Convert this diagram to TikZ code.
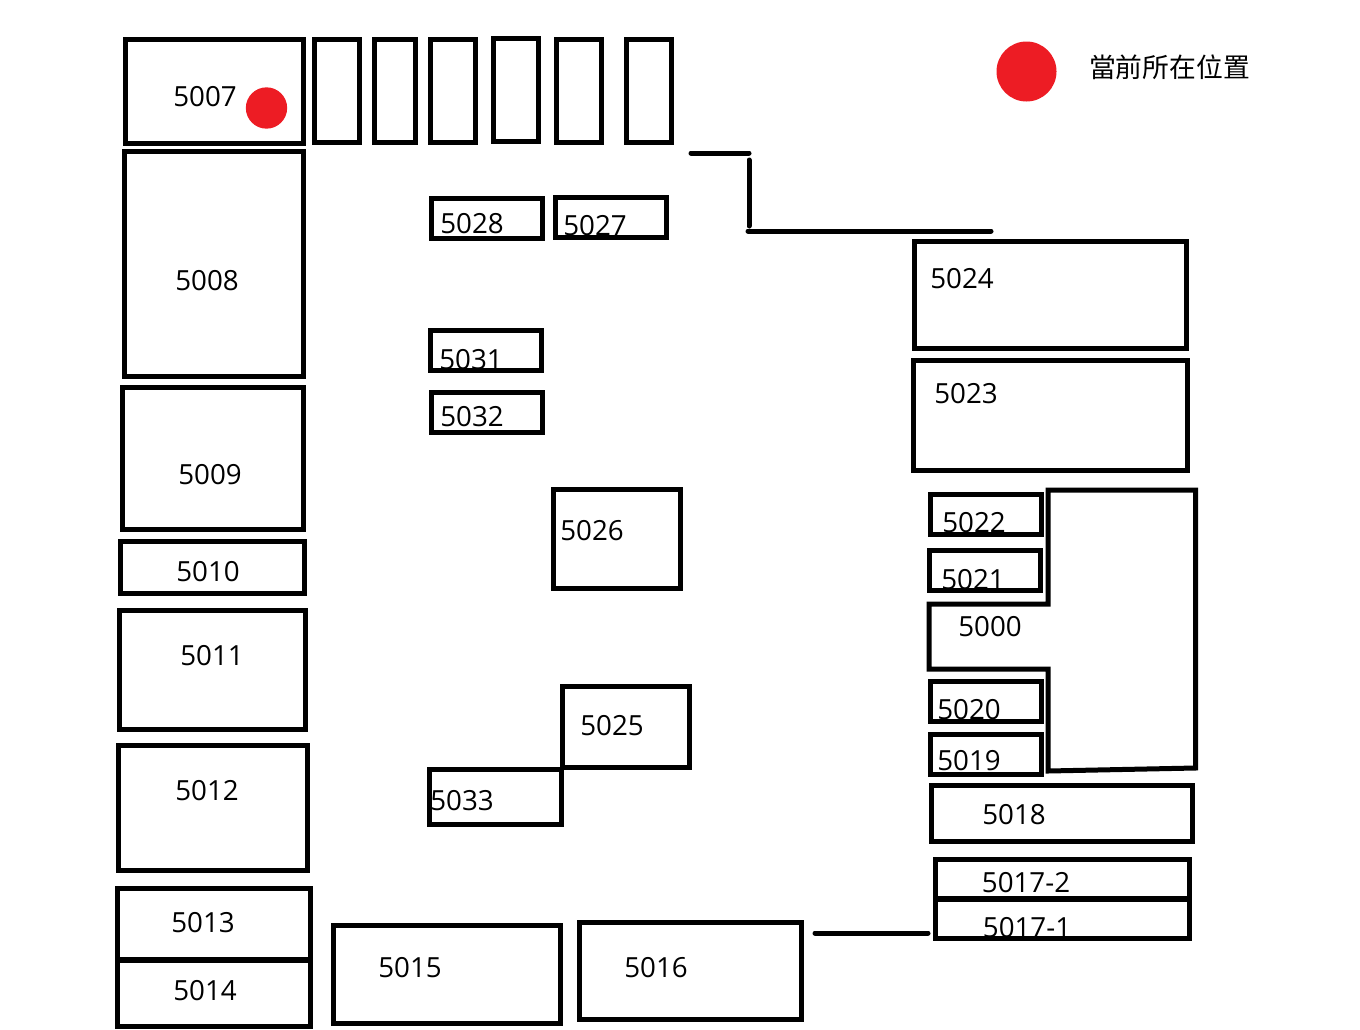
\documentclass[tikz,border=0pt]{standalone}
\usepackage{fontspec}
\setmainfont{Open Sans}
\newfontfamily\cjkfont{Noto Sans CJK TC}
\definecolor{herered}{HTML}{ED1C24}
\tikzset{
  room/.style 2 args={draw,line width=3.75pt,rectangle,inner sep=0pt,outer sep=0pt,anchor=north west,
    minimum width=#1*0.75pt-0.75pt,minimum height=#2*0.75pt-0.75pt},
  num/.style={font=\fontsize{20.8}{24}\selectfont,inner sep=0pt,yshift=-0.75pt},
  wall/.style={line width=3.75pt,line cap=round}
}
\begin{document}
\begin{tikzpicture}[x=0.75pt,y=-0.75pt]
\useasboundingbox (0,0) rectangle (1360,1029);
% top row
\node [room={179}{105}] (r5007) at (125,39) {};
\node [room={46}{104}] (e1) at (314,39) {};
\node [room={42}{104}] (e2) at (374,39) {};
\node [room={46}{104}] (e3) at (430,39) {};
\node [room={46}{104}] (e4) at (493,38) {};
\node [room={46}{104}] (e5) at (556,39) {};
\node [room={46}{104}] (e6) at (626,39) {};
\node [num] (t5007) at (205,96) {5007};
\node [circle,fill=herered,inner sep=0pt,minimum size=31pt] (here) at (266.5,108) {};
% left side
\node [room={180}{226}] (r5008) at (124,151) {};
\node [room={182}{143}] (r5009) at (122,387) {};
\node [room={185}{53}] (r5010) at (120,541) {};
\node [room={187}{120}] (r5011) at (119,610) {};
\node [room={190}{126}] (r5012) at (118,745) {};
\node [room={194}{72}] (r5013) at (117,888) {};
\node [room={194}{67}] (r5014) at (117,960) {};
\node [num] (t5008) at (207,280) {5008};
\node [num] (t5009) at (210,474) {5009};
\node [num] (t5010) at (208,571) {5010};
\node [num] (t5011) at (212,655) {5011};
\node [num] (t5012) at (207,790) {5012};
\node [num] (t5013) at (203,922) {5013};
\node [num] (t5014) at (205,990) {5014};
% bottom
\node [room={228}{99}] (r5015) at (333,925) {};
\node [room={223}{98}] (r5016) at (579,922) {};
\node [num] (t5015) at (410,967) {5015};
\node [num] (t5016) at (656,967) {5016};
% middle
\node [room={112}{41}] (r5028) at (431,198) {};
\node [room={112}{41}] (r5027) at (555,197) {};
\node [room={112}{41}] (r5031) at (430,330) {};
\node [room={112}{41}] (r5032) at (431,392) {};
\node [room={128}{100}] (r5026) at (553,489) {};
\node [room={128}{82}] (r5025) at (562,686) {};
\node [room={133}{56}] (r5033) at (429,769) {};
\node [num] (t5028) at (472,223) {5028};
\node [num] (t5027) at (595,225) {5027};
\node [num] (t5031) at (471,359) {5031};
\node [num] (t5032) at (472,416) {5032};
\node [num] (t5026) at (592,530) {5026};
\node [num] (t5025) at (612,725) {5025};
\node [num] (t5033) at (462,800) {5033};
% right side
\node [room={273}{108}] (r5024) at (914,241) {};
\node [room={275}{111}] (r5023) at (913,360) {};
\node [room={112}{41}] (r5022) at (930,494) {};
\node [room={112}{41}] (r5021) at (929,550) {};
\node [room={112}{41}] (r5020) at (930,681) {};
\node [room={112}{41}] (r5019) at (930,734) {};
\node [room={262}{57}] (r5018) at (931,785) {};
\node [room={255}{40}] (r5017b) at (935,859) {};
\node [room={255}{40}] (r5017a) at (935,899) {};
\draw [wall,line cap=butt,line join=miter] (1048,490) -- (1195.5,490) -- (1195.5,768) -- (1048,771)
  -- (1048,669) -- (929,669) -- (929,604) -- (1048,604) -- cycle;
\node [num] (t5024) at (962,278) {5024};
\node [num] (t5023) at (966,393) {5023};
\node [num] (t5022) at (974,522) {5022};
\node [num] (t5021) at (973,579) {5021};
\node [num] (t5000) at (990,626) {5000};
\node [num] (t5020) at (969,709) {5020};
\node [num] (t5019) at (969,760) {5019};
\node [num] (t5018) at (1014,814) {5018};
\node [num] (t5017b) at (1026,882) {5017-2};
\node [num] (t5017a) at (1027,927) {5017-1};
% loose walls
\coordinate (w1) at (691,153);
\coordinate (w2) at (749,153);
\coordinate (w3) at (749,160);
\coordinate (w4) at (749,226);
\coordinate (w5) at (748,231);
\coordinate (w6) at (991,231);
\coordinate (w7) at (815,933);
\coordinate (w8) at (928,933);
\draw [wall] (w1) -- (w2);
\draw [wall] (w3) -- (w4);
\draw [wall] (w5) -- (w6);
\draw [wall] (w7) -- (w8);
% legend
\node [circle,fill=herered,inner sep=0pt,minimum size=45pt] (key) at (1026.5,71.5) {};
\node [font=\cjkfont\fontsize{20.1}{24}\selectfont,inner sep=0pt] (keytext) at (1169.5,67.5) {當前所在位置};
\end{tikzpicture}
\end{document}
